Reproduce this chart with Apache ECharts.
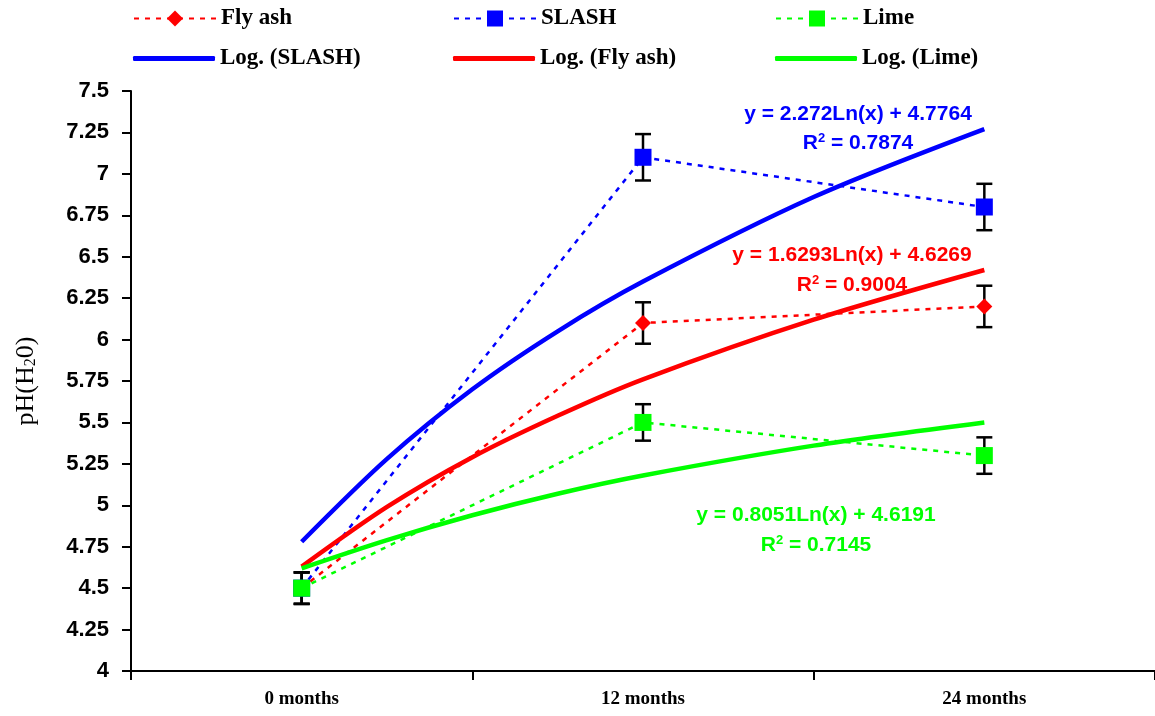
<!DOCTYPE html>
<html><head><meta charset="utf-8">
<script src="https://cdn.jsdelivr.net/npm/echarts@6/dist/echarts.min.js"></script>
<style>html,body{margin:0;padding:0;background:#fff}#c{width:1155px;height:716px}</style>
</head><body><div id="c"></div>
<script>
const categories = ['0 months', '12 months', '24 months'];
const flyAsh = [4.5, 6.1, 6.2];
const slash = [4.5, 7.1, 6.8];
const lime = [4.5, 5.5, 5.3];
const flyAshErr = [0.095, 0.125, 0.125];
const slashErr = [0.095, 0.14, 0.14];
const limeErr = [0.095, 0.11, 0.11];
// trendline values at category positions
const trendPos = [0, 0.25, 0.5, 0.75, 1, 1.5, 2];
const slashTrend = [4.78, 5.28, 5.70, 6.05, 6.35, 6.86, 7.27];
const flyAshTrend = [4.63, 4.99, 5.29, 5.54, 5.76, 6.12, 6.42];
const limeTrend = [4.62, 4.79, 4.94, 5.07, 5.18, 5.36, 5.50];
const yMin = 4, yMax = 7.5, yInterval = 0.25;
const eqSlash = ['y = 2.272Ln(x) + 4.7764', '0.7874'];
const eqFly = ['y = 1.6293Ln(x) + 4.6269', '0.9004'];
const eqLime = ['y = 0.8051Ln(x) + 4.6191', '0.7145'];

const RED = '#ff0000', BLUE = '#0000ff', GREEN = '#00ff00';

function errData(vals, errs) {
  return vals.map((v, i) => [i, v - errs[i], v + errs[i]]);
}
function errRender(params, api) {
  const x = api.value(0), lo = api.value(1), hi = api.value(2);
  const p1 = api.coord([x, hi]), p2 = api.coord([x, lo]);
  const w = 8;
  const style = { stroke: '#000', lineWidth: 2.5 };
  return { type: 'group', children: [
    { type: 'line', shape: { x1: p1[0], y1: p1[1], x2: p2[0], y2: p2[1] }, style },
    { type: 'line', shape: { x1: p1[0] - w, y1: p1[1], x2: p1[0] + w, y2: p1[1] }, style },
    { type: 'line', shape: { x1: p2[0] - w, y1: p2[1], x2: p2[0] + w, y2: p2[1] }, style }
  ]};
}
function dotted(name, data, color, symbol, size) {
  return { name, type: 'line', data, symbol, symbolSize: size, z: 3,
    itemStyle: { color }, lineStyle: { color, width: 2.5, type: [5, 6] } };
}
function trend(name, vals, color) {
  return { name, type: 'line', xAxisIndex: 1, smooth: 0.3, symbol: 'none', z: 4,
    data: trendPos.map((p, i) => [p, vals[i]]),
    itemStyle: { color }, lineStyle: { color, width: 4.5 } };
}
function errSeries(vals, errs) {
  return { type: 'custom', renderItem: errRender, data: errData(vals, errs), z: 1,
    encode: { x: 0, y: [1, 2] }, silent: true };
}
const legTxt = { fontFamily: 'Liberation Serif', fontWeight: 'bold', fontSize: 23, color: '#000' };
function leg(name, left, top) {
  return { data: [name], left, top, padding: 0, itemWidth: 82, itemHeight: 20, textStyle: legTxt, selectedMode: false };
}
function legLine(name, left, top) {
  return { data: [{ name, icon: 'roundRect' }], left, top, padding: 0, itemWidth: 82, itemHeight: 5,
    textStyle: legTxt, selectedMode: false };
}
const eqFont = { fontFamily: 'Liberation Sans', fontWeight: 'bold', fontSize: 21 };
function eqText(txt, x, y, color) {
  return { type: 'text', x, y, z: 10, style: { text: txt, fill: color, align: 'center', verticalAlign: 'middle', font: 'bold 21px "Liberation Sans"' } };
}
function r2Text(val, x, y, color) {
  return { type: 'text', x, y, z: 10, style: {
    text: '{a|R}{s|2}{a| = ' + val + '}', align: 'center', verticalAlign: 'middle',
    rich: { a: Object.assign({ fill: color, color }, eqFont, { lineHeight: 22 }),
            s: { fill: color, color, fontFamily: 'Liberation Sans', fontWeight: 'bold', fontSize: 13, verticalAlign: 'top', lineHeight: 22, padding: [0, 0, 8, 0] } } } };
}

const chart = echarts.init(document.getElementById('c'), null, { renderer: 'canvas' });
chart.setOption({
  animation: false,
  backgroundColor: '#fff',
  grid: { left: 131, right: 0, top: 91, bottom: 45, containLabel: false },
  legend: [
    leg('Fly ash', 133, 7), leg('SLASH', 453, 7), leg('Lime', 775, 7),
    legLine('Log. (SLASH)', 133, 47), legLine('Log. (Fly ash)', 453, 47), legLine('Log. (Lime)', 775, 47)
  ],
  xAxis: [
    { type: 'category', data: categories, boundaryGap: true,
      axisLine: { onZero: false, lineStyle: { color: '#000', width: 2 } },
      axisTick: { show: true, interval: 0, inside: false, length: 9, lineStyle: { color: '#000', width: 2 } },
      axisLabel: { color: '#000', fontFamily: 'Liberation Serif', fontWeight: 'bold', fontSize: 19, margin: 19 },
      splitLine: { show: false } },
    { type: 'value', min: -0.5, max: 2.5, show: false, splitLine: { show: false } }
  ],
  yAxis: {
    type: 'value', min: yMin, max: yMax, interval: yInterval,
    name: 'pH(H{s|2}0)', nameLocation: 'middle', nameRotate: 90, nameGap: 92,
    nameTextStyle: { color: '#000', fontFamily: 'Liberation Serif', fontSize: 26,
      rich: { s: { fontFamily: 'Liberation Serif', fontSize: 16, color: '#000', verticalAlign: 'bottom', padding: [10, 0, 0, 0] } } },
    axisLine: { show: true, onZero: false, lineStyle: { color: '#000', width: 2 } },
    axisTick: { show: true, length: 9, lineStyle: { color: '#000', width: 2 } },
    axisLabel: { color: '#000', fontFamily: 'Liberation Sans', fontWeight: 'bold', fontSize: 22, margin: 22 },
    splitLine: { show: false }
  },
  series: [
    errSeries(flyAsh, flyAshErr), errSeries(slash, slashErr), errSeries(lime, limeErr),
    dotted('Fly ash', flyAsh, RED, 'diamond', 16),
    dotted('SLASH', slash, BLUE, 'rect', 17),
    dotted('Lime', lime, GREEN, 'rect', 17),
    trend('Log. (SLASH)', slashTrend, BLUE),
    trend('Log. (Fly ash)', flyAshTrend, RED),
    trend('Log. (Lime)', limeTrend, GREEN)
  ],
  graphic: [
    eqText(eqSlash[0], 858, 114, BLUE), r2Text(eqSlash[1], 858, 143, BLUE),
    eqText(eqFly[0], 852, 255, RED), r2Text(eqFly[1], 852, 285, RED),
    eqText(eqLime[0], 816, 515, GREEN), r2Text(eqLime[1], 816, 545, GREEN)
  ]
});
</script></body></html>
